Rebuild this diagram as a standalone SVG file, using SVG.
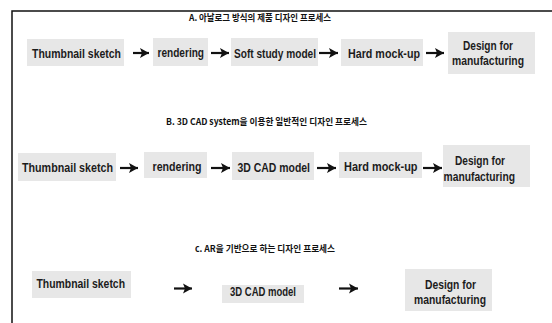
<svg xmlns="http://www.w3.org/2000/svg" width="552" height="323" viewBox="0 0 552 323">
<defs>
<style>
.box{fill:#e7e7e7}
.t{font-family:"Liberation Sans","Noto Sans",Arial,sans-serif;font-weight:bold;font-size:13.5px;fill:#1c1c1c}
.title{font-family:"Noto Sans CJK KR","Liberation Sans",sans-serif;font-weight:bold;font-size:9px;fill:#111}
.arr{stroke:#111;stroke-width:2.2;fill:none;marker-end:url(#ah)}
.frame{stroke:#111;stroke-width:1.5;fill:none}
</style>
<marker id="ah" markerUnits="userSpaceOnUse" markerWidth="10" markerHeight="11" refX="9" refY="5.5" orient="auto">
<path d="M0,0.5 L9,5.5 L0,10.5 L2,5.5 z" fill="#111"/>
</marker>
</defs>
<rect width="552" height="323" fill="#fff"/>
<path class="frame" d="M12,323 L12,11 L552,11"/>

<g id="titles">
<text id="titleA" class="title" x="189" y="21" textLength="142" lengthAdjust="spacingAndGlyphs">A. 아날로그 방식의 제품 디자인 프로세스</text>
<text id="titleB" class="title" x="166" y="124.5" textLength="201" lengthAdjust="spacingAndGlyphs">B. 3D CAD system을 이용한 일반적인 디자인 프로세스</text>
<text id="titleC" class="title" x="195" y="251.5" textLength="140" lengthAdjust="spacingAndGlyphs">c. AR을 기반으로 하는 디자인 프로세스</text>
</g>

<!-- Row A -->
<g id="a1"><rect class="box" x="27" y="39" width="97" height="27"/><text class="t" x="32" y="57.5" textLength="89" lengthAdjust="spacingAndGlyphs">Thumbnail sketch</text></g>
<g id="a2"><rect class="box" x="153" y="38" width="55" height="28"/><text class="t" x="157.5" y="57" textLength="46.5" lengthAdjust="spacingAndGlyphs">rendering</text></g>
<g id="a3"><rect class="box" x="231" y="38" width="87" height="28"/><text class="t" x="234" y="57.5" textLength="82" lengthAdjust="spacingAndGlyphs">Soft study model</text></g>
<g id="a4"><rect class="box" x="341" y="39" width="82" height="27"/><text class="t" x="348" y="57.5" textLength="72" lengthAdjust="spacingAndGlyphs">Hard mock-up</text></g>
<g id="a5"><rect class="box" x="448" y="32" width="87" height="42"/><text class="t" x="463" y="49.5" textLength="50" lengthAdjust="spacingAndGlyphs">Design for</text><text class="t" x="452" y="65" textLength="72" lengthAdjust="spacingAndGlyphs">manufacturing</text></g>

<!-- Row B -->
<g id="b1"><rect class="box" x="18" y="153" width="98" height="28"/><text class="t" x="22" y="171.5" textLength="91" lengthAdjust="spacingAndGlyphs">Thumbnail sketch</text></g>
<g id="b2"><rect class="box" x="144" y="152" width="63" height="26"/><text class="t" x="152.5" y="171" textLength="49" lengthAdjust="spacingAndGlyphs">rendering</text></g>
<g id="b3"><rect class="box" x="232" y="152" width="82" height="28"/><text class="t" x="237.5" y="171.5" textLength="72.5" lengthAdjust="spacingAndGlyphs">3D CAD model</text></g>
<g id="b4"><rect class="box" x="339" y="152" width="83" height="26"/><text class="t" x="344" y="171" textLength="73.5" lengthAdjust="spacingAndGlyphs">Hard mock-up</text></g>
<g id="b5"><rect class="box" x="443" y="145" width="87" height="42"/><text class="t" x="455" y="165" textLength="50" lengthAdjust="spacingAndGlyphs">Design for</text><text class="t" x="443.5" y="180.5" textLength="71.5" lengthAdjust="spacingAndGlyphs">manufacturing</text></g>

<!-- Row C -->
<g id="c1"><rect class="box" x="32" y="271" width="99" height="27"/><text class="t" x="36.5" y="288" textLength="88.5" lengthAdjust="spacingAndGlyphs">Thumbnail sketch</text></g>
<g id="c2"><rect class="box" x="222" y="285" width="82" height="18"/><text class="t" x="230" y="295.5" textLength="66" lengthAdjust="spacingAndGlyphs">3D CAD model</text></g>
<g id="c3"><rect class="box" x="405" y="269" width="87" height="42"/><text class="t" x="425" y="288.5" textLength="51" lengthAdjust="spacingAndGlyphs">Design for</text><text class="t" x="414" y="304" textLength="72" lengthAdjust="spacingAndGlyphs">manufacturing</text></g>

<g id="connectors">
<line class="arr" x1="133" y1="53" x2="149" y2="53"/>
<line class="arr" x1="211" y1="53" x2="229" y2="53"/>
<line class="arr" x1="319" y1="53" x2="338" y2="53"/>
<line class="arr" x1="426" y1="53" x2="444" y2="53"/>
<line class="arr" x1="120" y1="168" x2="138" y2="168"/>
<line class="arr" x1="211" y1="168" x2="230" y2="168"/>
<line class="arr" x1="317" y1="168" x2="336" y2="168"/>
<line class="arr" x1="423" y1="168" x2="442" y2="168"/>
<line class="arr" x1="174" y1="288.5" x2="192" y2="288.5"/>
<line class="arr" x1="339" y1="288.5" x2="358" y2="288.5"/>
</g>
</svg>
